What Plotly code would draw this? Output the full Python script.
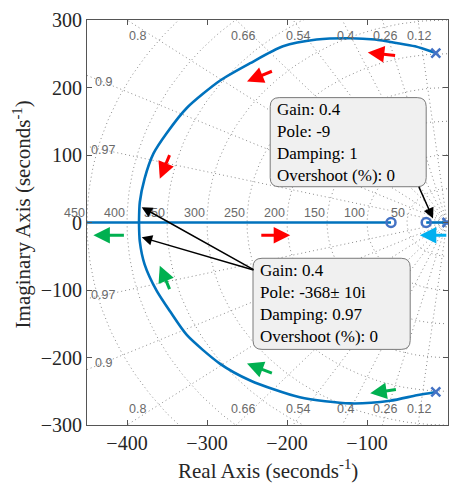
import numpy as np
import plotly.graph_objects as go

# ---- root locus data ----
pole_re = [0.0, -14.0, -14.0]
pole_im = [0.0, 251.0, -251.0]
zero_re = [-70.0, -26.0]
zero_im = [0.0, 0.0]

# complex branches, from the complex poles to the break-in point
upper_re = [-14, -40, -63, -90, -121, -163, -205, -246, -284, -325, -350, -367, -378, -384, -385]
upper_im = [251, 261, 266, 271, 273, 271, 261, 236, 210, 170, 133, 102, 65, 30, 0]
lower_re = [-14, -38, -71, -121, -184, -246, -284, -325, -346, -363, -378, -384, -385]
lower_im = [-251, -256, -264, -268, -259, -234, -209, -167, -132, -101, -62, -28, 0]

# real-axis branches
real_left_re = [-470, -70]
real_right_re = [-26, 0]

# s-plane grid
zetas = [0.12, 0.26, 0.4, 0.54, 0.66, 0.8, 0.9, 0.97]
wns = [50, 100, 150, 200, 250, 300, 350, 400, 450]

# direction arrows: (x_tail, y_tail, x_head, y_head, colour)
RED, GREEN, CYAN = "#ff0000", "#00b050", "#00b0f0"
dir_arrows = [
    (-63, 247, -99, 252, RED),
    (-217, 225, -250, 209, RED),
    (-346, 102, -359, 65, RED),
    (-234, -19, -196, -19, RED),
    (-402, -19, -442, -19, GREEN),
    (-346, -101, -359, -64, GREEN),
    (-217, -224, -250, -209, GREEN),
    (-62, -247, -96, -253, GREEN),
    (1, -19, -34, -19, CYAN),
]

tip1_lines = ["Gain: 0.4", "Pole: -9", "Damping: 1", "Overshoot (%): 0"]
tip2_lines = ["Gain: 0.4", "Pole: -368\u00b1 10i", "Damping: 0.97", "Overshoot (%): 0"]

X_RANGE = [-450, 1.25]
Y_RANGE = [-300, 300]

LOCUS = "#0072bd"
MARK = "#4472c4"
GRID = "#8c8c8c"
GRID_TXT = "#6a6a6a"
GRID_DASH = "1px,3px"

fig = go.Figure()

# damping rays
for z in zetas:
    s = np.sqrt(1 - z * z)
    for sg in (1, -1):
        fig.add_trace(go.Scatter(x=[0, -700 * z], y=[0, sg * 700 * s], mode="lines",
                                 line=dict(color=GRID, width=1, dash=GRID_DASH),
                                 hoverinfo="skip", showlegend=False))
# natural-frequency semicircles
th = np.linspace(np.pi / 2, 3 * np.pi / 2, 200)
for w in wns:
    fig.add_trace(go.Scatter(x=w * np.cos(th), y=w * np.sin(th), mode="lines",
                             line=dict(color=GRID, width=1, dash=GRID_DASH),
                             hoverinfo="skip", showlegend=False))

# locus branches
lw = 2.6
fig.add_trace(go.Scatter(x=upper_re, y=upper_im, mode="lines",
                         line=dict(color=LOCUS, width=lw, shape="spline", smoothing=0.7),
                         showlegend=False))
fig.add_trace(go.Scatter(x=lower_re, y=lower_im, mode="lines",
                         line=dict(color=LOCUS, width=lw, shape="spline", smoothing=0.7),
                         showlegend=False))
fig.add_trace(go.Scatter(x=real_left_re, y=[0, 0], mode="lines", line=dict(color=LOCUS, width=lw),
                         showlegend=False))
fig.add_trace(go.Scatter(x=real_right_re, y=[0, 0], mode="lines", line=dict(color=LOCUS, width=lw),
                         showlegend=False))

# poles and zeros
fig.add_trace(go.Scatter(x=pole_re, y=pole_im, mode="markers",
                         marker=dict(symbol="x-thin", size=9, line=dict(color=MARK, width=2.5)),
                         showlegend=False))
fig.add_trace(go.Scatter(x=zero_re, y=zero_im, mode="markers",
                         marker=dict(symbol="circle-open", size=9, color=MARK, line=dict(color=MARK, width=2.5)),
                         showlegend=False))

annotations = []
gfont = dict(family="Liberation Sans, Arial, sans-serif", size=12.5, color=GRID_TXT)

# damping labels: along the top/bottom edges, or on the left edge
for z in zetas:
    s = np.sqrt(1 - z * z)
    if 290 * z / s < 430:
        xl, yl = -290 * z / s, 277
    else:
        xl, yl = -430, 430 * s / z
    for sg in (1, -1):
        annotations.append(dict(x=xl, y=sg * yl, text=str(z), showarrow=False, font=gfont,
                                xanchor="center", yanchor="middle"))
# frequency labels on the real axis
for w in wns:
    annotations.append(dict(x=-w, y=0, text=str(w), showarrow=False, font=gfont,
                            xanchor="right", yanchor="bottom", yshift=1))

# direction arrows
for xt, yt, xh, yh, c in dir_arrows:
    annotations.append(dict(x=xh, y=yh, ax=xt, ay=yt, xref="x", yref="y", axref="x", ayref="y",
                            text="", showarrow=True, arrowhead=2, arrowsize=1.1, arrowwidth=3,
                            arrowcolor=c, standoff=0))

# data tips
tfont = dict(family="Liberation Serif, Times New Roman, serif", size=17, color="#000000")
annotations.append(dict(x=-215, y=119, text="<br>".join(tip1_lines), showarrow=False, font=tfont,
                        xanchor="left", yanchor="middle", align="left"))
annotations.append(dict(x=-236, y=-120, text="<br>".join(tip2_lines), showarrow=False, font=tfont,
                        xanchor="left", yanchor="middle", align="left"))
tip_arrows = [(-36, 55, -17.5, 6), (-240, -71, -381.6, 22.7), (-240, -71, -381.6, -22)]
for xt, yt, xh, yh in tip_arrows:
    annotations.append(dict(x=xh, y=yh, ax=xt, ay=yt, xref="x", yref="y", axref="x", ayref="y",
                            text="", showarrow=True, arrowhead=2, arrowsize=1.4, arrowwidth=1.5,
                            arrowcolor="#000000", standoff=0))

# axis titles
afont = dict(family="Liberation Serif, Times New Roman, serif", size=21, color="#262626")
annotations.append(dict(xref="paper", yref="paper", x=0.5, y=-0.11, text="Real Axis (seconds<sup>-1</sup>)",
                        showarrow=False, font=afont, xanchor="center", yanchor="middle"))
annotations.append(dict(xref="paper", yref="paper", x=-0.18, y=0.52, text="Imaginary Axis (seconds<sup>-1</sup>)",
                        showarrow=False, font=afont, xanchor="center", yanchor="middle", textangle=-90))


def rounded_box(x0, x1, y0, y1, r_px=9, sx=0.8004, sy=0.675):
    rx, ry = r_px / sx, r_px / sy
    return (f"M {x0 + rx},{y1} L {x1 - rx},{y1} Q {x1},{y1} {x1},{y1 - ry} "
            f"L {x1},{y0 + ry} Q {x1},{y0} {x1 - rx},{y0} L {x0 + rx},{y0} "
            f"Q {x0},{y0} {x0},{y0 + ry} L {x0},{y1 - ry} Q {x0},{y1} {x0 + rx},{y1} Z")


shapes = [
    dict(type="path", xref="x", yref="y", path=rounded_box(-221, -26, 53, 185),
         fillcolor="#f0f0f0", line=dict(color="#7a7a7a", width=1)),
    dict(type="path", xref="x", yref="y", path=rounded_box(-242.5, -46, -188, -53),
         fillcolor="#f0f0f0", line=dict(color="#7a7a7a", width=1)),
]

tickfont = dict(family="Liberation Serif, Times New Roman, serif", size=20, color="#262626")
fig.update_layout(
    width=451, height=483,
    margin=dict(l=87, r=3, t=20, b=58),
    paper_bgcolor="white", plot_bgcolor="white",
    showlegend=False,
    annotations=annotations,
    shapes=shapes,
    xaxis=dict(range=X_RANGE, tickvals=[-400, -300, -200, -100, 0], ticks="inside", ticklen=5,
               tickcolor="#555555", showline=True, linecolor="#555555", linewidth=1, mirror="ticks",
               showgrid=False, zeroline=False, tickfont=tickfont),
    yaxis=dict(range=Y_RANGE, tickvals=[-300, -200, -100, 0, 100, 200, 300], ticks="inside", ticklen=5,
               tickcolor="#555555", showline=True, linecolor="#555555", linewidth=1, mirror="ticks",
               showgrid=False, zeroline=False, tickfont=tickfont),
)

fig.write_html("out.html")
